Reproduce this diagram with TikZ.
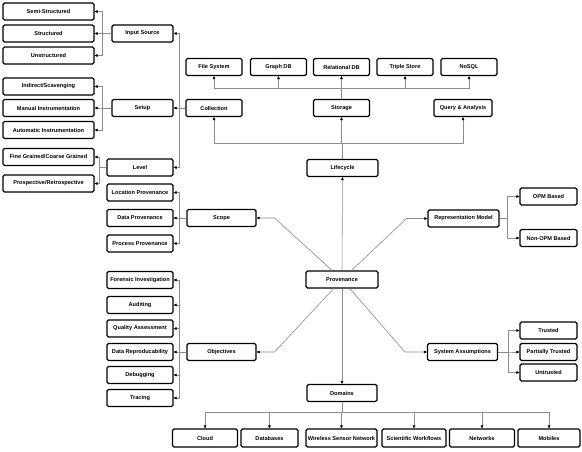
\documentclass[tikz,border=0pt]{standalone}
\usepackage{fontspec}
\setmainfont{Liberation Sans}
\usetikzlibrary{arrows.meta,calc}
\definecolor{linkgray}{RGB}{140,140,140}

\begin{document}
\begin{tikzpicture}[x=1pt,y=-1pt,
  box/.style={draw=black,line width=1.1pt,rounded corners=1.5pt,fill=white,inner sep=0pt,
    minimum height=17pt,font=\fontsize{5.6}{6}\selectfont\bfseries},
  link/.style={draw=linkgray,line width=.6pt,-{Triangle[length=3pt,width=2.6pt,color=black]}}]
  \useasboundingbox (0,0) rectangle (582,451);

  \node[box,minimum width=91pt] (semi) at (48.5,11.5) {Semi-Structured};
  \node[box,minimum width=91pt] (struct) at (48.5,33.5) {Structured};
  \node[box,minimum width=91pt] (unstruct) at (48.5,55.5) {Unstructured};
  \node[box,minimum width=91pt] (indirect) at (48.5,86.5) {Indirect/Scavenging};
  \node[box,minimum width=91pt] (manual) at (48.5,108) {Manual Instrumentation};
  \node[box,minimum width=91pt] (automatic) at (48.5,130) {Automatic Instrumentation};
  \node[box,minimum width=91pt] (fine) at (48.5,157) {Fine Grained/Coarse Grained};
  \node[box,minimum width=91pt] (prosp) at (48.5,183.5) {Prospective/Retrospective};

  \node[box,minimum width=61pt] (input) at (142.5,33.5) {Input Source};
  \node[box,minimum width=61pt] (setup) at (142.5,108) {Setup};
  \node[box,minimum width=66pt] (level) at (140,167.5) {Level};
  \node[box,minimum width=66pt] (loc) at (140,192.5) {Location Provenance};
  \node[box,minimum width=66pt] (data) at (140,218) {Data Provenance};
  \node[box,minimum width=66pt] (proc) at (140,243.5) {Process Provenance};
  \node[box,minimum width=66pt] (forensic) at (140,280) {Forensic Investigation};
  \node[box,minimum width=66pt] (audit) at (140,305) {Auditing};
  \node[box,minimum width=66pt] (quality) at (140,328.5) {Quality Assessment};
  \node[box,minimum width=66pt] (repro) at (140,352) {Data Reproducability};
  \node[box,minimum width=66pt] (debug) at (140,375) {Debugging};
  \node[box,minimum width=66pt] (tracing) at (140,398) {Tracing};

  \node[box,minimum width=69pt] (scope) at (221.5,218) {Scope};
  \node[box,minimum width=69pt] (obj) at (221.5,352) {Objectives};

  \node[box,minimum width=56pt] (fs) at (214,67) {File System};
  \node[box,minimum width=56pt] (graph) at (278.5,67) {Graph DB};
  \node[box,minimum width=56pt] (rel) at (341.5,67) {Relational DB};
  \node[box,minimum width=56pt] (triple) at (405,67) {Triple Store};
  \node[box,minimum width=56pt] (nosql) at (469,67) {NoSQL};
  \node[box,minimum width=56pt] (coll) at (214,108) {Collection};
  \node[box,minimum width=56pt] (stor) at (341.5,108) {Storage};
  \node[box,minimum width=58pt] (query) at (463,108) {Query \& Analysis};

  \node[box,minimum width=71pt] (life) at (342.5,168) {Lifecycle};
  \node[box,minimum width=72pt] (prov) at (342,279.5) {Provenance};
  \node[box,minimum width=70pt] (dom) at (342,393) {Domains};

  \node[box,minimum width=71pt] (rep) at (463.5,218.5) {Representation Model};
  \node[box,minimum width=57pt] (opm) at (548.5,196.5) {OPM Based};
  \node[box,minimum width=57pt] (nonopm) at (548.5,238) {Non-OPM Based};
  \node[box,minimum width=70pt] (sys) at (462.5,352) {System Assumptions};
  \node[box,minimum width=57pt] (trusted) at (548.5,330.5) {Trusted};
  \node[box,minimum width=57pt] (partial) at (548.5,352) {Partially Trusted};
  \node[box,minimum width=57pt] (untrusted) at (548.5,372.5) {Untrusted};

  \node[box,minimum width=65pt,minimum height=18pt] (cloud) at (205,438) {Cloud};
  \node[box,minimum width=57pt,minimum height=18pt] (db) at (269.5,438) {Databases};
  \node[box,minimum width=71pt,minimum height=18pt] (wsn) at (341.5,438) {Wireless Sensor Network};
  \node[box,minimum width=64pt,minimum height=18pt] (sci) at (414,438) {Scientific Workflows};
  \node[box,minimum width=65pt,minimum height=18pt] (net) at (482,438) {Networks};
  \node[box,minimum width=62pt,minimum height=18pt] (mob) at (549,438) {Mobiles};

  \foreach \n in {semi,struct,unstruct}
    \draw[link] (input.west) -- ++(-9,0) |- (\n.east);
  \foreach \n in {indirect,manual,automatic}
    \draw[link] (setup.west) -- ++(-9,0) |- (\n.east);
  \foreach \n in {fine,prosp}
    \draw[link] (level.west) -- ++(-7,0) |- (\n.east);
  \foreach \n in {input,setup,level}
    \draw[link] (coll.west) -- ++(-6,0) |- (\n.east);
  \foreach \n in {loc,data,proc}
    \draw[link] (scope.west) -- ++(-7,0) |- (\n.east);
  \foreach \n in {forensic,audit,quality,repro,debug,tracing}
    \draw[link] (obj.west) -- ++(-7,0) |- (\n.east);

  \foreach \n in {fs,graph,rel,triple,nosql}
    \draw[link] (stor.north) -- ++(0,-11) -| (\n.south);
  \foreach \n in {coll,stor,query}
    \draw[link] (life.north) -- ++(0,-16) -| (\n.south);
  \foreach \n in {cloud,db,wsn,sci,net,mob}
    \draw[link] (dom.south) -- ++(0,10) -| (\n.north);

  \draw[link] (prov) -- (life);
  \draw[link] (prov) -- (dom);
  \draw[link] (prov) -- ($(scope.east)+(18,0)$) -- (scope.east);
  \draw[link] (prov) -- ($(obj.east)+(18,0)$) -- (obj.east);
  \draw[link] (prov) -- ($(rep.west)+(-21,0)$) -- (rep.west);
  \draw[link] (prov) -- ($(sys.west)+(-22,0)$) -- (sys.west);

  \foreach \n in {opm,nonopm}
    \draw[link] (rep.east) -- ++(8,0) |- (\n.west);
  \foreach \n in {trusted,partial,untrusted}
    \draw[link] (sys.east) -- ++(10,0) |- (\n.west);
\end{tikzpicture}
\end{document}
